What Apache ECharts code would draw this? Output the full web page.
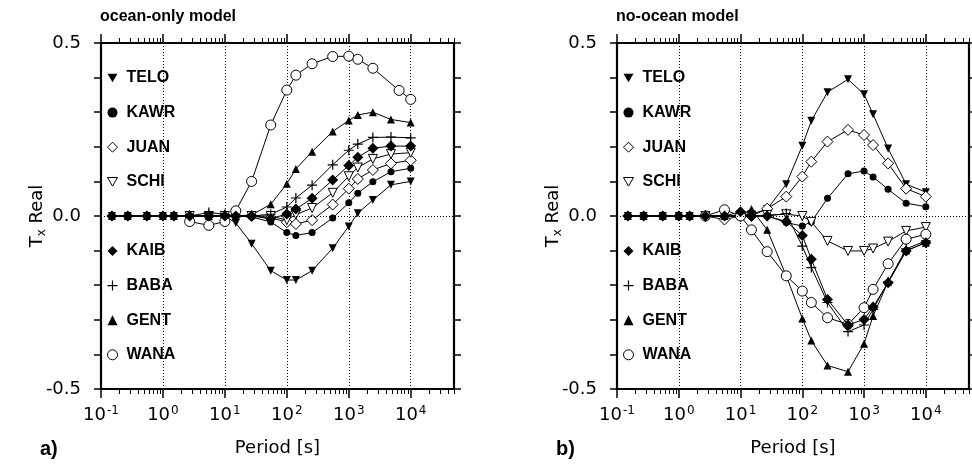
<!DOCTYPE html>
<html><head><meta charset="utf-8">
<script src="https://cdn.jsdelivr.net/npm/echarts@6/dist/echarts.min.js"></script>
<style>html,body{margin:0;padding:0;background:#fff}#c{width:972px;height:467px}</style>
</head><body><div id="c"></div>
<script>
// ---- data ----
const periods = [0.15, 0.27, 0.55, 1.0, 1.5, 2.7, 5.5, 10, 15, 27, 55, 100, 140, 256, 550, 1000, 1400, 2450, 4800, 6500, 10000];
const stations = ['TELO', 'KAWR', 'JUAN', 'SCHI', 'KAIB', 'BABA', 'GENT', 'WANA'];
const panelTitles = ['ocean-only model', 'no-ocean model'];
const panelLetters = ['a)', 'b)'];
const decadeTicks = [0.1, 1, 10, 100, 1000, 10000];
const yLabelTicks = [-0.5, 0, 0.5];

// ocean-only model
const teloOcean = [0,0,0,0,0,0,0,0,-0.02,-0.08,-0.158,-0.185,-0.185,-0.158,-0.093,-0.03,0.008,0.046,0.09,null,0.10];
const kawrOcean = [0,0,0,0,0,0,0,0,0,-0.003,-0.017,-0.048,-0.056,-0.048,-0.006,0.038,0.066,0.099,0.128,null,0.138];
const juanOcean = [null,null,null,null,null,0,0,0,0,0,-0.005,-0.018,-0.023,-0.012,0.033,0.079,0.107,0.133,0.152,null,0.161];
const schiOcean = [null,null,null,null,null,0,0,0,0,0,0,-0.012,0.004,0.023,0.067,0.115,0.14,0.165,0.179,null,0.183];
const kaibOcean = [0,0,0,0,0,0,0,0,0,0,-0.008,0.006,0.02,0.051,0.104,0.146,0.17,0.196,0.202,null,0.202];
const babaOcean = [0,0,0,0,0,0,0.01,0.005,0,0,0.005,0.026,0.052,0.089,0.148,0.19,0.208,0.227,0.228,null,0.226];
const gentOcean = [0,0,0,0,0,0,0,0,0,0.003,0.034,0.093,0.136,0.186,0.244,0.276,0.292,0.30,0.279,null,0.27];
const wanaOcean = [null,null,null,null,null,-0.016,-0.027,-0.016,0.015,0.10,0.263,0.364,0.407,0.44,0.461,0.462,0.453,0.427,null,0.363,0.337];

// no-ocean model
const teloNoOcean = [0,0,0,0,0,0,0,0,0.005,0.02,0.092,0.203,0.275,0.358,0.395,0.352,0.294,0.195,0.092,null,0.069];
const kawrNoOcean = [0,0,0,0,0,0,0,0,0,0,-0.019,-0.029,-0.017,0.051,0.122,0.13,0.113,0.077,0.037,null,0.027];
const juanNoOcean = [null,null,null,null,null,0,-0.01,0,0,0.021,0.056,0.114,0.157,0.215,0.249,0.234,0.205,0.152,0.079,null,0.056];
const schiNoOcean = [null,null,null,null,null,0,0,0,0,0.003,0.005,0.0,-0.017,-0.072,-0.101,-0.101,-0.094,-0.074,-0.043,null,-0.032];
const kaibNoOcean = [0,0,0,0,0,0,0,0.012,0,0,-0.016,-0.056,-0.125,-0.241,-0.315,-0.299,-0.263,-0.193,-0.101,null,-0.077];
const babaNoOcean = [0,0,0,0,0,0,0,0,0,0,0.007,-0.087,-0.149,-0.25,-0.334,-0.315,-0.27,-0.19,-0.095,null,-0.072];
const gentNoOcean = [0,0,0,0,0,0,0,0,0.02,-0.04,-0.173,-0.296,-0.36,-0.432,-0.45,-0.369,-0.289,-0.19,-0.10,null,-0.077];
const wanaNoOcean = [null,null,null,null,null,0,0.018,0,-0.04,-0.103,-0.173,-0.217,-0.25,-0.294,-0.313,-0.265,-0.212,-0.138,-0.067,null,-0.053];

const panelValues = [
  [teloOcean, kawrOcean, juanOcean, schiOcean, kaibOcean, babaOcean, gentOcean, wanaOcean],
  [teloNoOcean, kawrNoOcean, juanNoOcean, schiNoOcean, kaibNoOcean, babaNoOcean, gentNoOcean, wanaNoOcean]
];

// ---- styles ----
const TRI_DOWN = 'path://M0,0 L10,0 L5,8.66 Z';
const PLUS = 'path://M4.4,0 H5.6 V4.4 H10 V5.6 H5.6 V10 H4.4 V5.6 H0 V4.4 H4.4 Z';
const symStyle = {
  TELO: {symbol: TRI_DOWN, size: 8, fill: '#000', bw: 0, z: 3},
  KAWR: {symbol: 'circle', size: 7, fill: '#000', bw: 0, z: 3},
  JUAN: {symbol: 'diamond', size: 11, fill: '#fff', bw: 1, z: 3},
  SCHI: {symbol: TRI_DOWN, size: 9, fill: '#fff', bw: 1, z: 3},
  KAIB: {symbol: 'diamond', size: 11, fill: '#000', bw: 0, z: 5},
  BABA: {symbol: PLUS, size: 10, fill: '#000', bw: 0, z: 3},
  GENT: {symbol: 'triangle', size: 8, fill: '#000', bw: 0, z: 3},
  WANA: {symbol: 'circle', size: 10, fill: '#fff', bw: 1, z: 3}
};
const REG = 'DejaVu Sans';
const BOLD = 'Liberation Sans';

const minorTicks = [];
for (let n = -1; n <= 4; n++) for (let k = 2; k <= 9; k++) {
  const v = +(k * Math.pow(10, n)).toPrecision(6);
  if (v <= 50000) minorTicks.push(v);
}

const gridsPos = [
  {left: 101, top: 43, width: 353, height: 346},
  {left: 617, top: 43, width: 352, height: 346}
];

const xAxes = [], yAxes = [], series = [], legends = [], titles = [];
const axisLineStyle = {color: '#000', width: 2.2};

gridsPos.forEach((g, gi) => {
  const common = {type: 'log', logBase: 10, min: 0.1, max: 50000, gridIndex: gi};
  xAxes.push(Object.assign({}, common, {
    position: 'bottom',
    axisLine: {show: true, onZero: false, lineStyle: axisLineStyle},
    axisTick: {show: true, inside: false, length: 9, customValues: decadeTicks, lineStyle: {color: '#000', width: 1.5}},
    axisLabel: {
      customValues: decadeTicks, margin: 16, color: '#000',
      formatter: v => '{b|10}{e|' + Math.round(Math.log10(v)) + '}',
      rich: {b: {fontFamily: REG, fontSize: 18, color: '#000'},
             e: {fontFamily: REG, fontSize: 12, color: '#000', padding: [0, 0, 9, 1]}}
    },
    splitLine: {show: true, lineStyle: {type: [1, 2], color: '#000', width: 1}},
    name: 'Period [s]', nameLocation: 'middle', nameGap: 50,
    nameTextStyle: {fontFamily: REG, fontSize: 18, color: '#000'}
  }));
  xAxes.push(Object.assign({}, common, {
    position: 'bottom',
    axisLine: {show: false, onZero: false},
    axisTick: {show: true, inside: false, length: 5, customValues: minorTicks, lineStyle: {color: '#000', width: 1}},
    axisLabel: {show: false}, splitLine: {show: false}
  }));
  xAxes.push(Object.assign({}, common, {
    position: 'top',
    axisLine: {show: true, onZero: false, lineStyle: axisLineStyle},
    axisTick: {show: true, inside: false, length: 9, customValues: decadeTicks, lineStyle: {color: '#000', width: 1.5}},
    axisLabel: {show: false}, splitLine: {show: false}
  }));
  xAxes.push(Object.assign({}, common, {
    position: 'top',
    axisLine: {show: false, onZero: false},
    axisTick: {show: true, inside: false, length: 5, customValues: minorTicks, lineStyle: {color: '#000', width: 1}},
    axisLabel: {show: false}, splitLine: {show: false}
  }));
  yAxes.push({
    type: 'value', gridIndex: gi, min: -0.5, max: 0.5, interval: 0.1, position: 'left',
    axisLine: {show: true, onZero: false, lineStyle: axisLineStyle},
    axisTick: {show: true, inside: false, length: 7, lineStyle: {color: '#000', width: 1.5}},
    axisLabel: {customValues: yLabelTicks, margin: 20, formatter: v => v.toFixed(1),
                fontFamily: REG, fontSize: 18, color: '#000'},
    splitLine: {show: false},
    name: '{t|T}{s|x}{t| Real}', nameLocation: 'middle', nameGap: 53, nameRotate: 90,
    nameMoveOverlap: false,
    nameTextStyle: {rich: {
      t: {fontFamily: REG, fontSize: 18, color: '#000'},
      s: {fontFamily: REG, fontSize: 12, color: '#000', padding: [10, 0, 0, 0]}
    }}
  });
  yAxes.push({
    type: 'value', gridIndex: gi, min: -0.5, max: 0.5, interval: 0.1, position: 'right',
    axisLine: {show: true, onZero: false, lineStyle: axisLineStyle},
    axisTick: {show: true, inside: false, length: 7, lineStyle: {color: '#000', width: 1.5}},
    axisLabel: {show: false}, splitLine: {show: false}
  });

  stations.forEach((st, si) => {
    const vals = panelValues[gi][si];
    const data = [];
    periods.forEach((p, i) => { if (vals[i] !== null) data.push([p, vals[i]]); });
    const s = symStyle[st];
    const ser = {
      type: 'line', name: st, xAxisIndex: gi * 4, yAxisIndex: gi * 2,
      data: data, symbol: s.symbol, symbolSize: s.size, showAllSymbol: true,
      itemStyle: {color: s.fill, borderColor: '#000', borderWidth: s.bw},
      lineStyle: {color: '#000', width: 1},
      emphasis: {disabled: true}, silent: true, z: s.z
    };
    if (si === 0) {
      ser.markLine = {
        silent: true, symbol: ['none', 'none'], label: {show: false},
        lineStyle: {type: [1, 2], color: '#000', width: 1}, data: [{yAxis: 0}]
      };
    }
    series.push(ser);
  });

  [[0, 4, 70], [4, 8, 243]].forEach(([a, b, top]) => {
    legends.push({
      orient: 'vertical', left: g.left + 6, top: top, itemWidth: 10, itemHeight: 10, itemGap: 18.6,
      selectedMode: false, padding: 0,
      itemStyle: {borderWidth: 1},
      textStyle: {fontFamily: BOLD, fontWeight: 'bold', fontSize: 16, color: '#000', padding: [0, 0, 0, 4]},
      data: stations.slice(a, b).map(st => ({
        name: st, icon: symStyle[st].symbol,
        itemStyle: {borderWidth: symStyle[st].bw}
      }))
    });
  });

  titles.push({text: panelTitles[gi], left: g.left - 1, top: 9, padding: 0,
    textStyle: {fontFamily: BOLD, fontWeight: 'bold', fontSize: 16, color: '#000'}});
  titles.push({text: panelLetters[gi], left: g.left - 61, top: 439, padding: 0,
    textStyle: {fontFamily: BOLD, fontWeight: 'bold', fontSize: 20, color: '#000'}});
});

const chart = echarts.init(document.getElementById('c'), null, {renderer: 'canvas'});
chart.setOption({
  animation: false,
  backgroundColor: '#fff',
  title: titles,
  legend: legends,
  grid: gridsPos.map(g => Object.assign({containLabel: false}, g)),
  xAxis: xAxes,
  yAxis: yAxes,
  series: series
});
</script>
</body></html>
